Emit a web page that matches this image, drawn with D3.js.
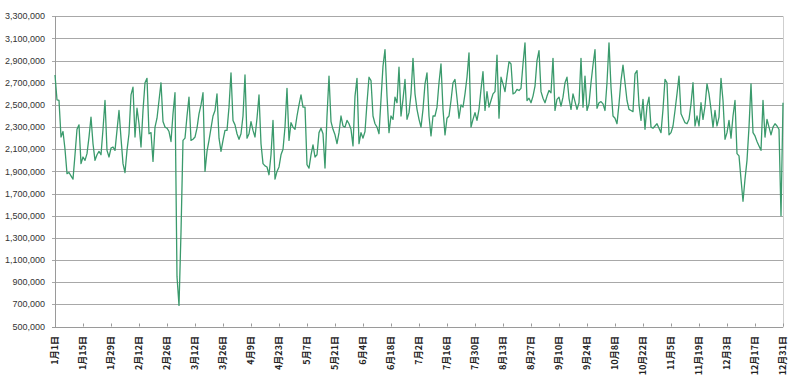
<!DOCTYPE html>
<html>
<head>
<meta charset="utf-8">
<script src="https://cdn.jsdelivr.net/npm/d3@7"></script>
<style>
  body { margin: 0; background: #fff; }
  .ylab { font-family: "Liberation Sans", Arial, sans-serif; font-size: 9px; fill: #333; }
  .xlab { font-family: "Noto Sans CJK JP", sans-serif; font-size: 9px; font-weight: bold; fill: #222; }
</style>
</head>
<body>
<svg id="chart"></svg>
<script>
var width = 800,
    height = 381;

// daily values (thousands), one array per month
var jan = [2770, 2545, 2540, 2210, 2260, 2100, 1880, 1890, 1860, 1830, 2050, 2280, 2320, 1970, 2030, 2000, 2060, 2210, 2390, 2150, 2000, 2050, 2080, 2050, 2280, 2540, 2090, 2030, 2110, 2120, 2090];
var feb = [2270, 2450, 2200, 1970, 1890, 2090, 2240, 2590, 2660, 2210, 2470, 2330, 2120, 2450, 2700, 2740, 2240, 2250, 1990, 2300, 2380, 2540, 2700, 2350, 2300, 2290, 2260, 2170];
var mar = [2420, 2610, 950, 690, 1350, 2180, 2200, 2400, 2570, 2180, 2190, 2210, 2290, 2420, 2500, 2610, 1900, 2080, 2180, 2290, 2400, 2450, 2600, 2200, 2080, 2180, 2270, 2270, 2480, 2790, 2360];
var apr = [2320, 2240, 2190, 2240, 2400, 2770, 2200, 2240, 2350, 2270, 2210, 2380, 2590, 2150, 1970, 1950, 1940, 1870, 2050, 2360, 1830, 1900, 1940, 2050, 2100, 2300, 2650, 2180, 2340, 2300];
var may = [2280, 2400, 2500, 2590, 2480, 2480, 1960, 1930, 2050, 2140, 2030, 2050, 2250, 2290, 2240, 1930, 2400, 2760, 2350, 2280, 2230, 2150, 2250, 2400, 2310, 2300, 2360, 2330, 2280, 2130, 2580];
var jun = [2740, 2150, 2250, 2200, 2260, 2520, 2750, 2720, 2400, 2330, 2300, 2240, 2550, 2850, 3000, 2580, 2250, 2400, 2370, 2570, 2520, 2840, 2400, 2550, 2730, 2370, 2430, 2600, 2920, 2600];
var jul = [2460, 2370, 2300, 2460, 2690, 2790, 2400, 2220, 2400, 2400, 2480, 2700, 2870, 2460, 2230, 2380, 2400, 2540, 2700, 2730, 2560, 2380, 2500, 2480, 2600, 2750, 2970, 2300, 2370, 2430, 2360];
var aug = [2460, 2640, 2800, 2450, 2620, 2480, 2540, 2600, 2620, 2950, 2380, 2750, 2690, 2620, 2760, 2890, 2870, 2600, 2610, 2640, 2630, 2650, 2870, 3060, 2540, 2560, 2520, 2580, 2670, 2900, 2990];
var sep = [2620, 2560, 2520, 2580, 2630, 2610, 2920, 2450, 2550, 2570, 2490, 2570, 2700, 2750, 2560, 2460, 2600, 2530, 2460, 2520, 2920, 2480, 2760, 2450, 2510, 2700, 2860, 3000, 2470, 2520];
var oct = [2530, 2510, 2450, 2700, 3060, 2660, 2400, 2380, 2330, 2510, 2720, 2860, 2700, 2540, 2460, 2450, 2440, 2780, 2810, 2500, 2360, 2550, 2280, 2490, 2570, 2300, 2290, 2310, 2330, 2290, 2250];
var nov = [2460, 2730, 2700, 2230, 2250, 2310, 2450, 2600, 2760, 2420, 2380, 2340, 2330, 2370, 2510, 2700, 2310, 2400, 2310, 2520, 2370, 2490, 2690, 2600, 2460, 2300, 2450, 2310, 2390, 2740];
var dec = [2540, 2190, 2250, 2360, 2200, 2400, 2540, 2060, 2040, 1830, 1630, 1830, 2000, 2300, 2690, 2250, 2220, 2170, 2130, 2090, 2540, 2210, 2370, 2300, 2230, 2300, 2330, 2310, 2280, 1500, 2520];

var yTicks = [500000, 700000, 900000, 1100000, 1300000, 1500000, 1700000, 1900000,
              2100000, 2300000, 2500000, 2700000, 2900000, 3100000, 3300000];
var tickEvery = 14; // x labels every two weeks from Jan 1

var months = [jan, feb, mar, apr, may, jun, jul, aug, sep, oct, nov, dec];
var data = [];
months.forEach(function(vals, m) {
  vals.forEach(function(v, i) {
    data.push({ date: new Date(2019, m, i + 1), value: v * 1000 });
  });
});

var x = d3.scaleTime()
  .domain([new Date(2019, 0, 1), new Date(2019, 11, 31)])
  .range([55, 783]);

var y = d3.scaleLinear()
  .domain([500000, 3300000])
  .range([326.5, 16.3]);

var svg = d3.select("#chart")
  .attr("width", width)
  .attr("height", height);

// horizontal gridlines
svg.append("g")
  .selectAll("line")
  .data(yTicks)
  .enter().append("line")
  .attr("x1", 52)
  .attr("x2", 783)
  .attr("y1", function(d) { return Math.round(y(d)) + 0.5; })
  .attr("y2", function(d) { return Math.round(y(d)) + 0.5; })
  .attr("stroke", function(d) { return d === 500000 ? "#9a9a9a" : "#a8a8a8"; })
  .attr("stroke-width", 1);

// y labels
svg.append("g")
  .selectAll("text")
  .data(yTicks)
  .enter().append("text")
  .attr("class", "ylab")
  .attr("x", 45)
  .attr("y", function(d) { return y(d); })
  .attr("dy", "0.35em")
  .attr("text-anchor", "end")
  .text(d3.format(","));

// left axis and right border
svg.append("line")
  .attr("x1", 55.5).attr("x2", 55.5)
  .attr("y1", y(3300000)).attr("y2", y(500000) + 1)
  .attr("stroke", "#9a9a9a");
svg.append("line")
  .attr("x1", 783.5).attr("x2", 783.5)
  .attr("y1", y(3300000)).attr("y2", y(500000) + 1)
  .attr("stroke", "#cfcfcf");

// x ticks and labels
var tickDates = d3.timeDay.every(1).range(new Date(2019, 0, 1), new Date(2020, 0, 1))
  .filter(function(d, i) { return i % tickEvery === 0; });

svg.append("g")
  .selectAll("line")
  .data(tickDates)
  .enter().append("line")
  .attr("x1", function(d) { return Math.round(x(d)) + 0.5; })
  .attr("x2", function(d) { return Math.round(x(d)) + 0.5; })
  .attr("y1", y(500000) - 3)
  .attr("y2", y(500000))
  .attr("stroke", "#9a9a9a");

svg.append("g")
  .selectAll("text")
  .data(tickDates)
  .enter().append("text")
  .attr("class", "xlab")
  .attr("transform", function(d) { return "translate(" + x(d) + ",336) rotate(-90)"; })
  .attr("dy", "0.35em")
  .attr("text-anchor", "end")
  .text(function(d) { return (d.getMonth() + 1) + "月" + d.getDate() + "日"; });

// the series
var line = d3.line()
  .x(function(d) { return x(d.date); })
  .y(function(d) { return y(d.value); });

svg.append("path")
  .datum(data)
  .attr("d", line)
  .attr("fill", "none")
  .attr("stroke", "#3a9a6c")
  .attr("stroke-width", 1.3)
  .attr("stroke-linejoin", "round");
</script>
</body>
</html>
